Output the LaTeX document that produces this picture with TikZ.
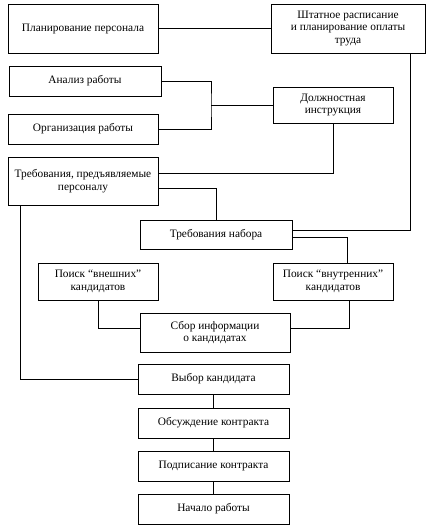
\documentclass[tikz,border=0pt]{standalone}
\usepackage{fontspec}
\setmainfont{Liberation Serif}
\begin{document}
\begin{tikzpicture}[x=1bp,y=-1bp,line width=0.8bp,
  every node/.style={draw,rectangle,align=center,inner sep=2pt,font=\fontsize{11.4}{12.5}\selectfont}]
\useasboundingbox (0,0) rectangle (428,532);
\node[minimum width=150bp,minimum height=49bp] (plan) at (83,28.5) {Планирование персонала};
\node[minimum width=154bp,minimum height=49bp] (shtat) at (348,28.5) {Штатное расписание\\и планирование оплаты\\труда};
\node[minimum width=152bp,minimum height=30bp] (analiz) at (85,81) {Анализ работы};
\node[minimum width=150bp,minimum height=30bp] (org) at (83,129) {Организация работы};
\node[minimum width=120bp,minimum height=36bp] (dolzh) at (333,105) {Должностная\\инструкция};
\node[minimum width=150bp,minimum height=48bp] (treb) at (83,181) {Требования, предъявляемые\\персоналу};
\node[minimum width=152bp,minimum height=29bp] (nabor) at (216,234.5) {Требования набора};
\node[minimum width=120bp,minimum height=37bp] (vnesh) at (98,281.5) {Поиск “внешних”\\кандидатов};
\node[minimum width=120bp,minimum height=37bp] (vnutr) at (333,281.5) {Поиск “внутренних”\\кандидатов};
\node[minimum width=150bp,minimum height=39bp] (sbor) at (215,332.5) {Сбор информации\\о кандидатах};
\node[minimum width=151bp,minimum height=30bp] (vybor) at (213.5,379) {Выбор кандидата};
\node[minimum width=151bp,minimum height=30bp] (obsuzh) at (213.5,423) {Обсуждение контракта};
\node[minimum width=151bp,minimum height=30bp] (podpis) at (213.5,466) {Подписание контракта};
\node[minimum width=151bp,minimum height=30bp] (nachalo) at (213.5,509) {Начало работы};
\coordinate (br) at (211,105);

\draw (plan) -- (shtat);
\draw (analiz.east) -| (br) |- (org.east);
\draw (br) -- (dolzh.west);
\draw (dolzh.south) |- ([yshift=8bp]treb.east);
\draw ([yshift=-7bp]treb.east) -| (nabor.north);
\draw ([xshift=62bp]shtat.south) |- ([yshift=4.5bp]nabor.east);
\draw ([yshift=-2.5bp]nabor.east) -| ([xshift=14bp]vnutr.north);
\draw (vnesh.south) |- ([yshift=4bp]sbor.west);
\draw ([xshift=16bp]vnutr.south) |- ([yshift=4bp]sbor.east);
\draw ([xshift=-63bp]treb.south) |- (vybor.west);
\foreach \a/\b in {vybor/obsuzh,obsuzh/podpis,podpis/nachalo}{
  \draw (\a) -- (\b);
}
\end{tikzpicture}
\end{document}
